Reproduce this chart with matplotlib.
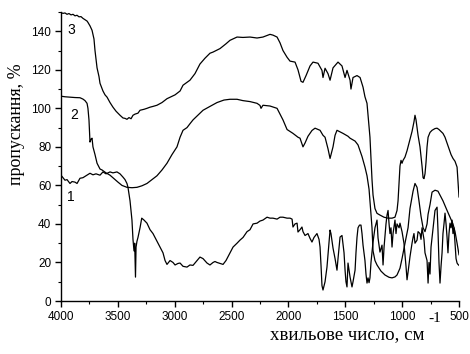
import matplotlib
matplotlib.use("Agg")
import matplotlib.pyplot as plt
from matplotlib.ticker import MultipleLocator

# ---- data (wavenumber, transmittance) ----
wn1 = [4000, 3982, 3965, 3947, 3921, 3903, 3877, 3859, 3833, 3807, 3771, 3745, 3719, 3692, 3657, 3631, 3604, 3569,
       3543, 3508, 3481, 3455, 3437, 3420, 3411, 3393, 3376, 3367, 3358, 3352, 3345, 3340, 3332, 3323, 3305, 3290,
       3270, 3244, 3217, 3191, 3156, 3129, 3103, 3085, 3068, 3041, 3015, 2997, 2971, 2953, 2927, 2892, 2866, 2839,
       2804, 2778, 2751, 2716, 2690, 2663, 2646, 2628, 2602, 2575, 2549, 2514, 2487, 2452, 2426, 2399, 2364, 2338,
       2311, 2276, 2250, 2224, 2188, 2162, 2136, 2100, 2074, 2048, 2012, 1986, 1968, 1960, 1942, 1924, 1916, 1898,
       1881, 1872, 1854, 1828, 1810, 1793, 1775, 1749, 1731, 1722, 1713, 1705, 1696, 1678, 1661, 1643, 1634, 1626,
       1608, 1590, 1573, 1564, 1546, 1529, 1511, 1502, 1494, 1485, 1476, 1467, 1458, 1450, 1441, 1432, 1414, 1406,
       1397, 1388, 1375, 1362, 1353, 1344, 1327, 1318, 1309, 1300, 1291, 1283, 1274, 1256, 1239, 1221, 1212, 1195,
       1177, 1168, 1159, 1142, 1133, 1124, 1115, 1107, 1098, 1089, 1080, 1063, 1054, 1045, 1027, 1019, 1001, 984,
       966, 957, 948, 931, 913, 904, 896, 887, 869, 860, 843, 834, 825, 808, 799, 781, 772, 764, 755, 746, 737, 720,
       711, 693, 685, 676, 667, 658, 649, 641, 632, 623, 614, 605, 597, 588, 579, 570, 561, 553, 544, 535, 526, 517,
       509, 500]
t1 = [65.3, 64, 62.7, 63, 61, 62, 61.7, 61, 63.7, 64, 65.3, 66.3, 65.5, 66, 65.3, 67, 66, 67,
      66.5, 67, 66, 64.3, 63, 61, 59, 52, 42, 32, 26, 30, 12.4, 28, 31, 33, 38, 43,
      42, 40.4, 37, 35, 31, 28, 25, 21, 19, 21, 20, 18.7, 19.5, 19.7, 18, 17.6, 18.7, 18.5,
      21, 22.8, 22, 19.7, 18.7, 20, 20.5, 20, 19.5, 19, 21, 25, 28, 30, 31.6, 33, 36, 37,
      40, 40.4, 41.5, 42, 43.5, 43, 43, 42.5, 43.5, 43.5, 43, 43, 42.5, 38.4, 40, 40.4, 35.8, 37,
      38.4, 36, 34, 35, 32.5, 30.6, 33, 35, 32, 28, 18, 8, 5.7, 10, 17.6, 30, 36.8, 35,
      27.5, 22, 16, 22, 33.2, 34, 25, 16, 10, 7.3, 19.7, 16, 12.4, 10, 7.3, 10, 16, 25,
      33, 38, 39.4, 39.4, 35, 29, 21, 14, 9.3, 12, 9.5, 12, 20, 30.6, 38, 42, 32.7, 25.4,
      29, 18.7, 28, 40, 44.6, 47, 40, 35, 38, 28, 35, 42, 35, 40, 38, 40.4, 36, 30,
      18, 11, 15, 23, 30, 33, 35, 30, 31.6, 36, 35, 32, 38, 32, 25, 21, 9.3, 20, 14, 28, 33, 42,
      47, 48.7, 37, 20, 9.3, 18, 25, 35, 40, 45.6, 40, 33, 25, 35, 40.4, 38, 42, 35, 38, 30, 22, 19.7,
      19, 18.5]

wn2 = [4000, 3965, 3921, 3877, 3833, 3807, 3789, 3771, 3763, 3754, 3745, 3736, 3727, 3719, 3701, 3683, 3657, 3639,
       3604, 3569, 3499, 3464, 3420, 3376, 3332, 3288, 3244, 3200, 3156, 3112, 3068, 3024, 2980, 2953, 2927, 2892,
       2866, 2839, 2795, 2751, 2690, 2628, 2567, 2514, 2452, 2400, 2338, 2276, 2250, 2241, 2224, 2162, 2100, 2074,
       2048, 2012, 1986, 1960, 1916, 1898, 1872, 1854, 1828, 1793, 1766, 1722, 1696, 1678, 1652, 1634, 1608, 1590,
       1573, 1520, 1476, 1458, 1414, 1388, 1353, 1327, 1309, 1291, 1274, 1265, 1256, 1239, 1221, 1186, 1151, 1115,
       1089, 1063, 1045, 1019, 1001, 975, 948, 931, 904, 887, 869, 852, 834, 816, 799, 781, 772, 755, 737, 711,
       685, 641, 605, 579, 553, 535, 517, 500]
t2 = [106.3, 106, 105.8, 105.6, 105.5, 104.8, 104, 102.6, 100, 94, 82.5, 84, 84.5, 80, 76, 71.5, 68.5, 68,
      66.5, 65.3, 61.7, 60, 59, 58.8, 59, 59.8, 61, 63, 65, 68, 71.5, 76, 80, 85, 88.6, 90,
      92, 94, 96.5, 99, 101, 103, 104.3, 104.7, 104.7, 104, 103.5, 102.6, 101.5, 100, 101.6, 101.2, 100, 97,
      94, 89, 88, 87, 85, 84.5, 80, 82, 85.5, 88.5, 89.7, 88.6, 86, 85, 79, 74, 80, 86,
      88.6, 87, 85.5, 84.5, 83, 81, 75, 69.5, 65, 58, 45, 38, 26, 21, 18.7, 15.5, 13.5, 12.3,
      12, 12.5, 13.5, 17, 22, 30, 38, 48, 57, 61, 59, 52, 44, 38, 36, 40, 45, 50, 56.5, 57.5,
      57, 52, 47, 43.5, 40, 36, 30, 24]

wn3 = [4000, 3982, 3965, 3947, 3930, 3912, 3894, 3877, 3859, 3842, 3824, 3807, 3789, 3771, 3763, 3745, 3727, 3710,
       3701, 3683, 3666, 3657, 3631, 3613, 3595, 3569, 3543, 3516, 3481, 3455, 3437, 3420, 3402, 3384, 3367, 3349,
       3323, 3305, 3270, 3244, 3217, 3191, 3156, 3112, 3068, 2997, 2953, 2927, 2866, 2822, 2778, 2734, 2690, 2663,
       2602, 2549, 2514, 2452, 2400, 2338, 2276, 2224, 2162, 2136, 2100, 2074, 2048, 2012, 1986, 1942, 1916, 1889,
       1872, 1845, 1810, 1784, 1740, 1705, 1696, 1678, 1652, 1634, 1608, 1564, 1529, 1502, 1485, 1458, 1450, 1432,
       1397, 1370, 1344, 1327, 1309, 1283, 1265, 1256, 1239, 1221, 1195, 1160, 1124, 1089, 1063, 1045, 1036, 1027,
       1019, 1010, 1001, 992, 975, 957, 948, 931, 913, 896, 887, 878, 860, 843, 825, 816, 808, 799, 790, 781,
       772, 755, 737, 711, 693, 676, 658, 641, 623, 605, 588, 570, 553, 535, 517, 509, 500]
t3 = [149.6, 149.3, 149.5, 148.8, 149.2, 148.5, 148.8, 148, 148.3, 147.5, 147.6, 146.7, 146, 145.3, 144.6, 142.8, 140.5, 136,
      130, 121, 116.5, 113, 109, 107, 105.8, 103, 100.6, 98.5, 96.4, 95, 94.8, 94.3, 95.2, 94.6, 96.4, 97,
      97.5, 99, 99.5, 100, 100.6, 101, 101.6, 103, 105, 107, 109, 112, 114.6, 118, 123, 126, 128.6, 129.2,
      131, 133.5, 135.3, 137, 136.8, 137, 136.5, 137, 138.4, 138, 137, 134, 130, 126.5, 124.5, 124, 120, 114,
      113.5, 117, 122, 124, 123.4, 119.7, 116, 120.8, 118, 114.6, 121, 124, 122, 116, 119.7, 114.6, 110, 116,
      117, 116, 111, 106, 102.6, 85, 63, 55, 48, 45.5, 44.6, 43.5, 43, 43, 43.5, 47, 52, 62,
      70, 73, 71.5, 73, 74.7, 78, 80, 84, 88, 93, 96.4, 94, 86, 80, 70, 64, 63.5, 66, 72, 80,
      85, 87.5, 88.6, 89.5, 89.7, 89, 88, 87, 85, 82, 79, 76, 74, 72.5, 69.5, 62, 54]

curve_labels = ["1", "2", "3"]
label_wn = [3912, 3886, 3908]
label_t = [53.9, 96.4, 140.5]

xlabel_text = "хвильове число, см"
xlabel_sup = "-1"
ylabel_text = "пропускання, %"

# ---- figure ----
fig = plt.figure(figsize=(4.70, 3.54), dpi=100)
ax = fig.add_axes([61 / 470, 1 - 301 / 354, 398 / 470, 289 / 354])

for wn, t in [(wn1, t1), (wn2, t2), (wn3, t3)]:
    ax.plot(wn, t, color="black", linewidth=0.9)

for lab, x, y in zip(curve_labels, label_wn, label_t):
    ax.text(x, y, lab, fontsize=10, family="Liberation Sans", ha="center", va="center")

ax.set_xlim(4000, 500)
ax.set_ylim(0, 150)
ax.xaxis.set_major_locator(MultipleLocator(500))
ax.xaxis.set_minor_locator(MultipleLocator(250))
ax.yaxis.set_major_locator(MultipleLocator(20))
ax.yaxis.set_minor_locator(MultipleLocator(10))
ax.spines["top"].set_visible(False)
ax.spines["right"].set_visible(False)
for s in ("left", "bottom"):
    ax.spines[s].set_linewidth(1.0)
ax.tick_params(which="major", direction="out", length=4.5, width=1.0, pad=2.5,
               labelsize=8.5)
ax.tick_params(which="minor", direction="out", length=2.5, width=0.8)
for lbl in ax.get_xticklabels() + ax.get_yticklabels():
    lbl.set_family("Liberation Sans")

fig.text(270 / 470, 1 - 339 / 354, xlabel_text, fontsize=13.6, family="Liberation Serif",
         ha="left", va="baseline")
fig.text(428 / 470, 1 - 322 / 354, xlabel_sup, fontsize=11, family="Liberation Serif",
         ha="left", va="baseline")
fig.text(17 / 470, 1 - 124 / 354, ylabel_text, fontsize=13, family="Liberation Serif",
         ha="center", va="center", rotation=90)

fig.savefig("out.png", dpi=100)
